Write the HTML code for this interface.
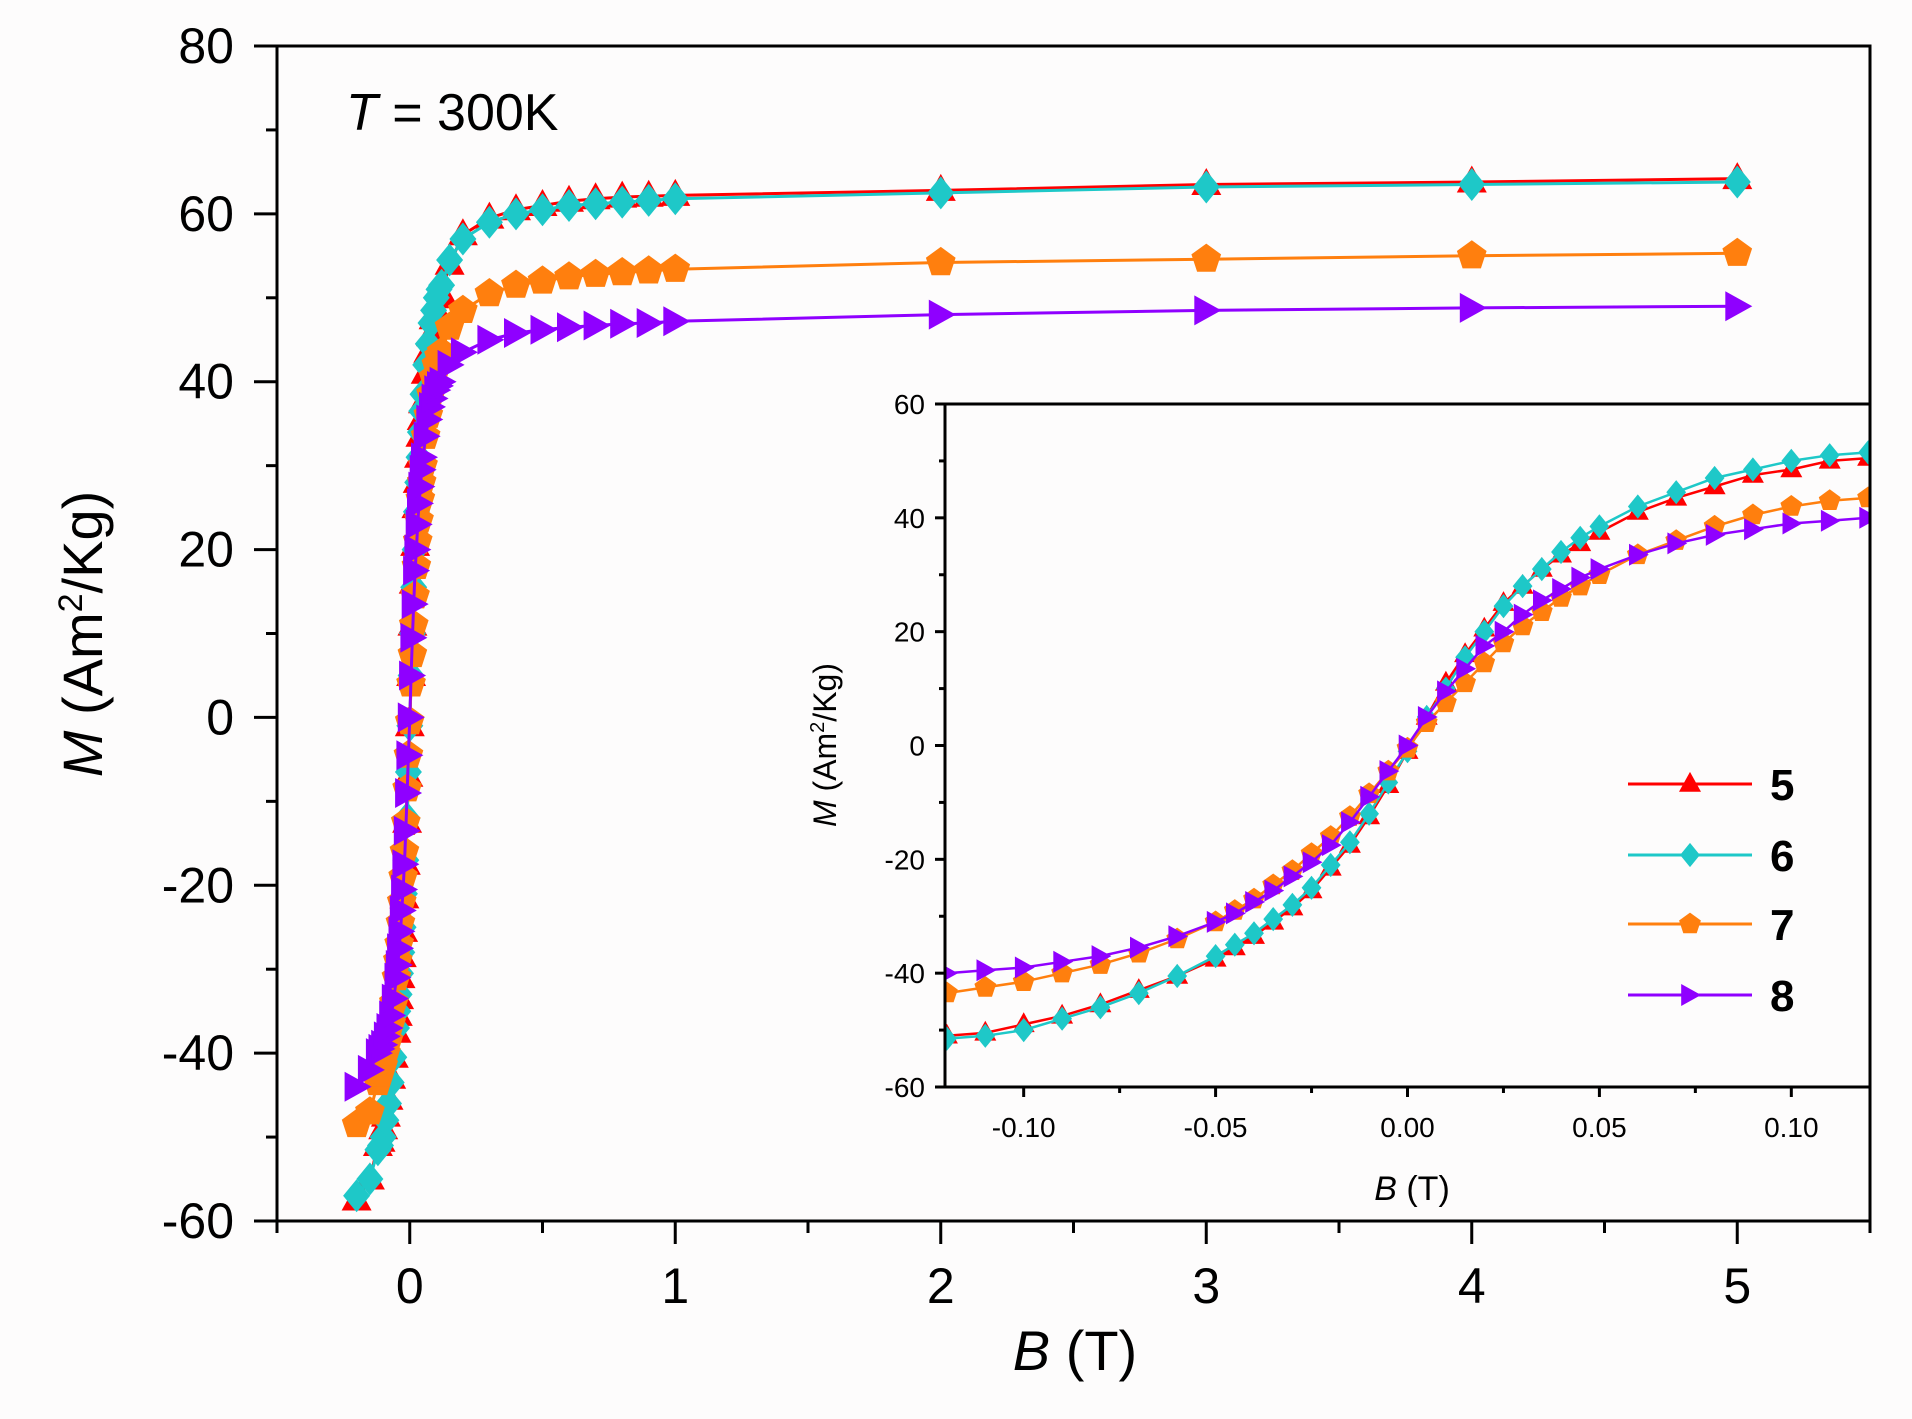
<!DOCTYPE html>
<html><head><meta charset="utf-8"><style>
html,body{margin:0;padding:0;background:#fdfcfc;}
svg{display:block;font-family:"Liberation Sans",sans-serif;}
</style></head><body>
<svg id="chart" width="1912" height="1419" viewBox="0 0 1912 1419" xmlns="http://www.w3.org/2000/svg">
<g id="main"></g>
<g id="inset"></g>
<text x="346" y="130" font-size="52"><tspan font-style="italic">T</tspan> = 300K</text>
<text x="1075" y="1370" font-size="56" text-anchor="middle"><tspan font-style="italic">B</tspan> (T)</text>
<text transform="translate(102,634) rotate(-90)" font-size="56" text-anchor="middle"><tspan font-style="italic">M</tspan> (Am<tspan dy="-20" font-size="34">2</tspan><tspan dy="20">/Kg)</tspan></text>
<text x="1412" y="1200" font-size="34" text-anchor="middle"><tspan font-style="italic">B</tspan> (T)</text>
<text transform="translate(836,745) rotate(-90)" font-size="32" text-anchor="middle"><tspan font-style="italic">M</tspan> (Am<tspan dy="-12" font-size="20">2</tspan><tspan dy="12">/Kg)</tspan></text>
<g id="legend"></g>
</svg>
<script>
const B = [-0.2,-0.15,-0.12,-0.11,-0.10,-0.09,-0.08,-0.07,-0.06,-0.05,-0.045,-0.04,-0.035,-0.03,-0.025,-0.02,-0.015,-0.01,-0.005,0,0.005,0.01,0.015,0.02,0.025,0.03,0.035,0.04,0.045,0.05,0.06,0.07,0.08,0.09,0.10,0.11,0.12,0.15,0.2,0.3,0.4,0.5,0.6,0.7,0.8,0.9,1,2,3,4,5];
const M5 = [-57.5,-55,-51,-50.5,-49,-47.5,-45.5,-43,-40.5,-37.5,-35.5,-33.5,-31,-28.5,-25.5,-21.5,-17.5,-12.5,-7,-1,5,11,16,20.5,25,28,31,33.5,35.5,37.5,41,43.5,45.5,47.5,48.5,50,50.5,54,57.5,59.5,60.5,61,61.5,61.8,62,62.1,62.2,62.8,63.5,63.8,64.2];
const M6 = [-57,-55,-51.5,-51,-50,-48,-46,-43.5,-40.5,-37,-35,-33,-30.5,-28,-25,-21,-17,-12,-6.5,-1,5,10,15.5,20,24.5,28,31,34,36.5,38.5,42,44.5,47,48.5,50,51,51.5,54.5,57,59,60,60.5,61,61.2,61.4,61.6,61.8,62.5,63.2,63.5,63.8];
const M7 = [-48.5,-47,-43.5,-42.5,-41.5,-40,-38.5,-36.5,-34,-31,-29,-27,-24.5,-22,-19,-16,-12.5,-8.5,-4.5,-0.5,4,7.5,11,14.5,18,21,23.5,26,28,30,33.5,36,38.5,40.5,42,43,43.5,46.5,48.5,50.5,51.5,52,52.5,52.8,53,53.2,53.4,54.2,54.6,55,55.3];
const M8 = [-44,-42,-40,-39.5,-39,-38,-37,-35.5,-33.5,-31,-29.5,-27.5,-25.5,-23,-20.5,-17.5,-13.5,-9,-4.5,0,5,9.5,13.5,17.5,20,23,25.5,27.5,29.5,31,33.5,35.5,37,38,39,39.5,40,42,43.5,45,45.8,46.2,46.5,46.7,46.9,47,47.2,48,48.5,48.8,49];
const seriesNames = ["5","6","7","8"];
const mainXTicks = [0,1,2,3,4,5];
const mainYTicks = [-60,-40,-20,0,20,40,60,80];
const insetXTicks = [-0.10,-0.05,0.00,0.05,0.10];
const insetXLabels = ["-0.10","-0.05","0.00","0.05","0.10"];
const insetYTicks = [-60,-40,-20,0,20,40,60];

const NS="http://www.w3.org/2000/svg";
function mk(tag,attrs,parent){const e=document.createElementNS(NS,tag);for(const k in attrs)e.setAttribute(k,attrs[k]);parent.appendChild(e);return e;}
const styles=[{c:"#ff0000",m:"tri"},{c:"#1ec8c8",m:"dia"},{c:"#ff7f0e",m:"pent"},{c:"#8f00ff",m:"rtri"}];
const allM=[M5,M6,M7,M8];
function marker(type,x,y,s,color,parent){
  let pts;
  if(type==="tri")pts=[[0,-s*0.55],[s*0.5,s*0.35],[-s*0.5,s*0.35]];
  else if(type==="dia")pts=[[0,-s*0.55],[s*0.45,0],[0,s*0.55],[-s*0.45,0]];
  else if(type==="rtri")pts=[[s*0.5,0],[-s*0.4,-s*0.5],[-s*0.4,s*0.5]];
  else{pts=[];for(let i=0;i<5;i++){const a=-Math.PI/2+i*2*Math.PI/5;pts.push([Math.cos(a)*s*0.52,Math.sin(a)*s*0.52]);}}
  return mk("polygon",{points:pts.map(p=>(x+p[0]).toFixed(1)+","+(y+p[1]).toFixed(1)).join(" "),fill:color},parent);
}
function drawPlot(g,X0,X1,Y0,Y1,bmin,bmax,mmin,mmax,ms,lw,clipId,filterB){
  const sx=b=>X0+(b-bmin)/(bmax-bmin)*(X1-X0);
  const sy=m=>Y1-(m-mmin)/(mmax-mmin)*(Y1-Y0);
  const defs=mk("defs",{},g);const cp=mk("clipPath",{id:clipId},defs);mk("rect",{x:X0,y:Y0,width:X1-X0,height:Y1-Y0},cp);
  const dg=mk("g",{"clip-path":"url(#"+clipId+")"},g);
  allM.forEach((M,si)=>{
    const sg=mk("g",{},dg);
    
    
    const idx=B.map((b,i)=>i).filter(i=>filterB(B[i]));
    mk("polyline",{points:idx.map(i=>sx(B[i]).toFixed(1)+","+sy(M[i]).toFixed(1)).join(" "),fill:"none",stroke:styles[si].c,"stroke-width":lw},sg);
    idx.forEach(i=>{const p=marker(styles[si].m,sx(B[i]),sy(M[i]),ms,styles[si].c,sg);
      
      });
  });
  return {sx,sy};
}
// main
const main=document.getElementById("main");
const MX0=277,MX1=1870,MY0=46,MY1=1221;
const ms=drawPlot(main,MX0,MX1,MY0,MY1,-0.5,5.5,-60,80,30,3,"clipMain",b=>true);
mk("rect",{x:MX0,y:MY0,width:MX1-MX0,height:MY1-MY0,fill:"none",stroke:"#000","stroke-width":3},main);
mainYTicks.forEach(v=>{const y=ms.sy(v);
  mk("line",{x1:254,x2:MX0,y1:y,y2:y,stroke:"#000","stroke-width":3},main);
  const t=mk("text",{x:234,y:y+17,"font-size":50,"text-anchor":"end"},main);t.textContent=v;
  
  if(v<80){const y2=ms.sy(v+10);mk("line",{x1:266,x2:MX0,y1:y2,y2:y2,stroke:"#000","stroke-width":3},main);}
});
mainXTicks.forEach(v=>{const x=ms.sx(v);
  mk("line",{x1:x,x2:x,y1:MY1,y2:MY1+23,stroke:"#000","stroke-width":3},main);
  const t=mk("text",{x:x,y:1303,"font-size":50,"text-anchor":"middle"},main);t.textContent=v;
  
});
[-0.5,0.5,1.5,2.5,3.5,4.5,5.5].forEach(v=>{const x=ms.sx(v);mk("line",{x1:x,x2:x,y1:MY1,y2:MY1+12,stroke:"#000","stroke-width":3},main);});
// inset
const inset=document.getElementById("inset");
const IX0=945,IX1=1870,IY0=404,IY1=1087;
mk("rect",{x:IX0,y:IY0,width:IX1-IX0,height:IY1-IY0,fill:"#fdfcfc"},inset);
const is=drawPlot(inset,IX0,IX1,IY0,IY1,-0.1205,0.1205,-60,60,22,2.5,"clipInset",b=>b>=-0.13&&b<=0.13);
mk("rect",{x:IX0,y:IY0,width:IX1-IX0,height:IY1-IY0,fill:"none",stroke:"#000","stroke-width":3},inset);
insetYTicks.forEach(v=>{const y=is.sy(v);
  mk("line",{x1:IX0-10,x2:IX0,y1:y,y2:y,stroke:"#000","stroke-width":3},inset);
  const t=mk("text",{x:IX0-20,y:y+10,"font-size":28,"text-anchor":"end"},inset);t.textContent=v;
  
  if(v<60){const y2=is.sy(v+10);mk("line",{x1:IX0-6,x2:IX0,y1:y2,y2:y2,stroke:"#000","stroke-width":3},inset);}
});
insetXTicks.forEach((v,i)=>{const x=is.sx(v);
  mk("line",{x1:x,x2:x,y1:IY1,y2:IY1+10,stroke:"#000","stroke-width":3},inset);
  const t=mk("text",{x:x,y:1137,"font-size":28,"text-anchor":"middle"},inset);t.textContent=insetXLabels[i];
  
});
[-0.075,-0.025,0.025,0.075].forEach(v=>{const x=is.sx(v);mk("line",{x1:x,x2:x,y1:IY1,y2:IY1+6,stroke:"#000","stroke-width":3},inset);});
// legend
const lg=document.getElementById("legend");
[784,855,924,995].forEach((y,i)=>{
  const e=mk("g",{},lg);
  
  
  mk("line",{x1:1628,x2:1752,y1:y,y2:y,stroke:styles[i].c,"stroke-width":3},e);
  marker(styles[i].m,1690,y,22,styles[i].c,e);
  const t=mk("text",{x:1770,y:y+16,"font-size":44,"font-weight":"bold"},e);t.textContent=seriesNames[i];
});
</script>
</body></html>
